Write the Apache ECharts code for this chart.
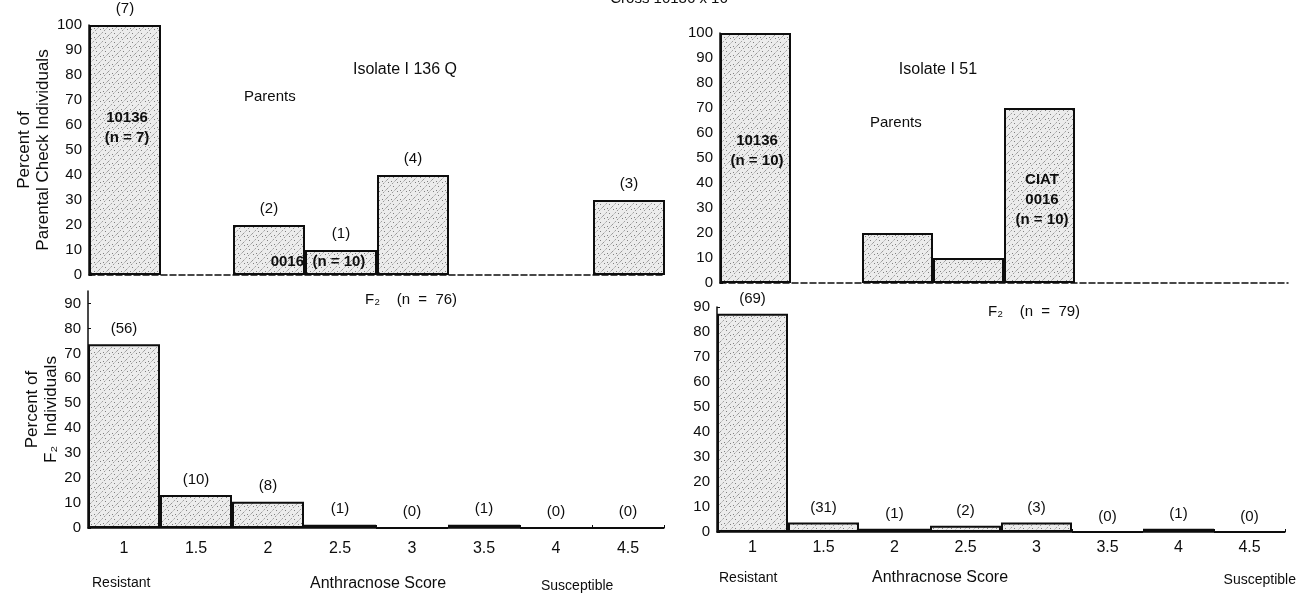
<!DOCTYPE html>
<html>
<head>
<meta charset="utf-8">
<style>
  html, body { margin: 0; padding: 0; background: #fff; }
  #chart { width: 1297px; height: 598px; }
</style>
<script src="https://cdn.jsdelivr.net/npm/echarts@6/dist/echarts.min.js"></script>
</head>
<body>
<div id="chart"></div>
<script>
// Anthracnose score classes (x categories)
const scores = ['1', '1.5', '2', '2.5', '3', '3.5', '4', '4.5'];

// Isolate I 136 Q – parents (percent of check individuals)
const p10136_I136 = [100, null, null, null, null, null, null, null];
const p10136_I136_n = [7, null, null, null, null, null, null, null];
const p0016_I136 = [null, null, 20, 10, 40, null, null, 30];
const p0016_I136_n = [null, null, 2, 1, 4, null, null, 3];

// Isolate I 136 Q – F2 (percent of F2 individuals, n = 76)
const f2_I136 = [73.7, 13.2, 10.5, 1.3, 0, 1.3, 0, 0];
const f2_I136_n = [56, 10, 8, 1, 0, 1, 0, 0];

// Isolate I 51 – parents
const p10136_I51 = [100, null, null, null, null, null, null, null];
const pCIAT_I51 = [null, null, 20, 10, 70, null, null, null];

// Isolate I 51 – F2 (n = 79), counts as printed above the bars
const f2_I51 = [87.3, 3.8, 1.3, 2.5, 3.8, 0, 1.3, 0];
const f2_I51_n = [69, 31, 1, 2, 3, 0, 1, 0];

const FONT = '"Liberation Sans", Arial, sans-serif';
const INK = '#0d0d0d';

// stippled + hatched fill used for every bar
function makeHatch() {
  const c = document.createElement('canvas');
  c.width = 9; c.height = 9;
  const g = c.getContext('2d');
  g.fillStyle = '#ececec';
  g.fillRect(0, 0, 9, 9);
  g.strokeStyle = 'rgba(50,50,50,0.5)';
  g.lineWidth = 0.9;
  g.setLineDash([2, 1.5]);
  g.beginPath();
  g.moveTo(0, 9); g.lineTo(9, 0);
  g.stroke();
  g.fillStyle = 'rgba(40,40,40,0.55)';
  g.fillRect(1, 2, 1, 1);
  g.fillRect(6, 6, 1, 1);
  g.fillRect(4, 1, 1, 1);
  return c;
}
const hatch = { image: makeHatch(), repeat: 'repeat' };

const barStyle = { color: hatch, borderColor: INK, borderWidth: 2 };

function countLabel(counts, distance) {
  return {
    show: true,
    position: 'top',
    distance: distance,
    fontFamily: FONT,
    fontSize: 15,
    color: INK,
    formatter: p => (counts[p.dataIndex] == null ? '' : '(' + counts[p.dataIndex] + ')')
  };
}

function yAxisDef(gridIndex, max, name, nameGap) {
  return {
    type: 'value', gridIndex, min: 0, max, interval: 10,
    axisLine: { show: true, lineStyle: { color: INK, width: 1.5 } },
    axisTick: { show: true, inside: true, length: 3, lineStyle: { color: INK } },
    splitLine: { show: false },
    axisLabel: { fontFamily: FONT, fontSize: 15, color: INK, margin: 7, showMaxLabel: max % 10 === 0 },
    name, nameLocation: 'middle', nameRotate: 90, nameGap,
    nameTextStyle: { fontFamily: FONT, fontSize: 17, color: INK, lineHeight: 19 }
  };
}

function xAxisDef(gridIndex, showLabels, dashed, margin) {
  return {
    type: 'category', gridIndex, data: scores, boundaryGap: true,
    axisLine: { show: true, lineStyle: { color: INK, width: 1.5, type: dashed ? 'dashed' : 'solid' } },
    axisTick: { show: showLabels, inside: true, length: 3, lineStyle: { color: INK } },
    axisLabel: { show: showLabels, fontFamily: FONT, fontSize: 16, color: INK, margin }
  };
}

// free text: (x, y) is the anchor, vertically centred
function note(x, y, text, align, opts) {
  return {
    type: 'text', x, y, z: 100,
    style: Object.assign({
      text, fontFamily: FONT, fontSize: 15, fill: INK,
      align: align || 'left', verticalAlign: 'middle', lineHeight: 20
    }, opts || {})
  };
}
const boldIn = { fontWeight: 'bold', fontSize: 15 };
const small = { fontSize: 14 };

const chart = echarts.init(document.getElementById('chart'), null, { renderer: 'canvas' });

chart.setOption({
  animation: false,
  backgroundColor: '#ffffff',
  grid: [
    { left: 89, top: 25, width: 576, height: 250 },   // I 136 Q parents
    { left: 88, top: 291, width: 576, height: 237 },  // I 136 Q F2
    { left: 720, top: 33, width: 568, height: 250 },  // I 51 parents
    { left: 717, top: 307, width: 568, height: 225 }  // I 51 F2
  ],
  xAxis: [
    xAxisDef(0, false, true, 10),
    xAxisDef(1, true, false, 13),
    xAxisDef(2, false, true, 10),
    xAxisDef(3, true, false, 8)
  ],
  yAxis: [
    yAxisDef(0, 100, 'Percent of\nParental Check Individuals', 26),
    yAxisDef(1, 95, 'Percent of\nF\u2082  Individuals', 25),
    yAxisDef(2, 100, '', 30),
    yAxisDef(3, 90, '', 30)
  ],
  series: [
    { type: 'bar', xAxisIndex: 0, yAxisIndex: 0, stack: 'pA', barCategoryGap: '0%', data: p10136_I136, itemStyle: barStyle, label: countLabel(p10136_I136_n, 9) },
    { type: 'bar', xAxisIndex: 0, yAxisIndex: 0, stack: 'pA', barCategoryGap: '0%', data: p0016_I136, itemStyle: barStyle, label: countLabel(p0016_I136_n, 9) },
    { type: 'bar', xAxisIndex: 1, yAxisIndex: 1, barCategoryGap: '0%', data: f2_I136, itemStyle: barStyle, label: countLabel(f2_I136_n, 8) },
    { type: 'bar', xAxisIndex: 2, yAxisIndex: 2, stack: 'pB', barCategoryGap: '0%', data: p10136_I51, itemStyle: barStyle },
    { type: 'bar', xAxisIndex: 2, yAxisIndex: 2, stack: 'pB', barCategoryGap: '0%', data: pCIAT_I51, itemStyle: barStyle },
    { type: 'bar', xAxisIndex: 3, yAxisIndex: 3, barCategoryGap: '0%', data: f2_I51, itemStyle: barStyle, label: countLabel(f2_I51_n, 7) }
  ],
  graphic: [
    note(669, -1, 'Cross 10136 x 16', 'center'),
    // Isolate I 136 Q
    note(405, 70, 'Isolate I 136 Q', 'center', { fontSize: 16 }),
    note(244, 97, 'Parents'),
    note(127, 128, '10136\n(n = 7)', 'center', boldIn),
    note(318, 262, '0016  (n = 10)', 'center', boldIn),
    note(365, 300, 'F\u2082    (n  =  76)'),
    note(92, 583, 'Resistant', 'left', small),
    note(378, 584, 'Anthracnose Score', 'center', { fontSize: 16 }),
    note(541, 586, 'Susceptible', 'left', small),
    // Isolate I 51
    note(938, 70, 'Isolate I 51', 'center', { fontSize: 16 }),
    note(870, 123, 'Parents'),
    note(757, 151, '10136\n(n = 10)', 'center', boldIn),
    note(1042, 200, 'CIAT\n0016\n(n = 10)', 'center', boldIn),
    note(988, 312, 'F\u2082    (n  =  79)'),
    note(719, 578, 'Resistant', 'left', small),
    note(940, 578, 'Anthracnose Score', 'center', { fontSize: 16 }),
    note(1296, 580, 'Susceptible', 'right', small)
  ]
});
</script>
</body>
</html>
